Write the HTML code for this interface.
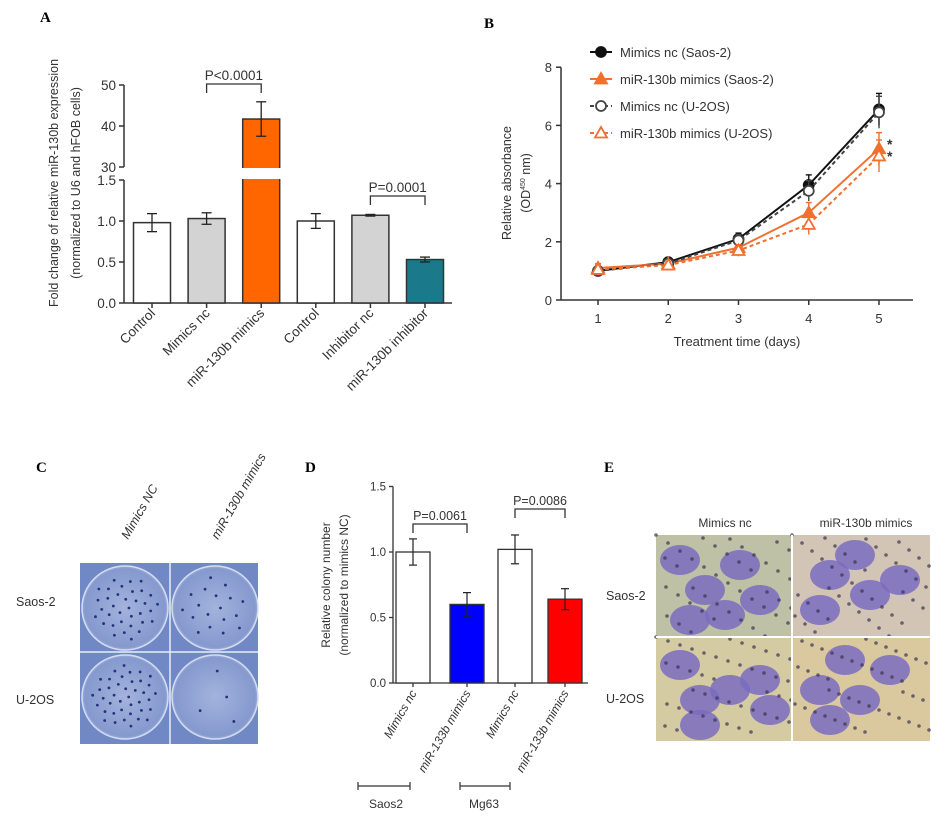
<!DOCTYPE html>
<html><head><meta charset="utf-8"><style>
body{margin:0;background:#fff;width:945px;height:830px;overflow:hidden}
svg{font-family:"Liberation Sans",Arial,sans-serif}
</style></head><body>
<svg id="fig" width="945" height="830" viewBox="0 0 945 830">
<defs>
<radialGradient id="plate" cx="50%" cy="50%" r="55%"><stop offset="0" stop-color="#a3b3dc"/><stop offset="0.85" stop-color="#8599cf"/><stop offset="1" stop-color="#c9d4ec"/></radialGradient>
</defs>
<g id="pA"></g>
<g id="pB"></g>
<g id="pC"></g>
<g id="pD"></g>
<g id="pE"></g>
</svg>
<script>
// Panel A data
const aCats = ["Control","Mimics nc","miR-130b mimics","Control","Inhibitor nc","miR-130b inhibitor"];
const aVals = [0.98,1.03,41.7,1.0,1.07,0.53];
const aErr = [0.11,0.07,4.2,0.09,0.01,0.03];
const aFill = ["#fff","#d3d3d3","#ff6600","#fff","#d3d3d3","#1a7a8c"];
const aTicksLow = [0,0.5,1.0,1.5];
const aTicksHigh = [30,40,50];
// Panel B data
const bDays = [1,2,3,4,5];
const bNcSaos = [1.0,1.3,2.1,3.95,6.55];
const bMiSaos = [1.1,1.25,1.8,3.0,5.2];
const bNcU2 = [1.0,1.25,2.05,3.75,6.45];
const bMiU2 = [1.05,1.2,1.7,2.6,4.95];
const bErr = [0.15,0.12,0.2,0.35,0.55];
const bTicks = [0,2,4,6,8];
// Panel D data
const dCats = ["Mimics nc","miR-133b mimics","Mimics nc","miR-133b mimics"];
const dVals = [1.0,0.6,1.02,0.64];
const dErr = [0.1,0.09,0.11,0.08];
const dFill = ["#fff","#0000ff","#fff","#ff0000"];
const dTicks = [0,0.5,1.0,1.5];

const NS="http://www.w3.org/2000/svg";
function mk(p,tag,at,txt){const e=document.createElementNS(NS,tag);for(const k in at)e.setAttribute(k,at[k]);if(txt!==undefined)e.textContent=txt;p.appendChild(e);return e;}

// ---------- Panel A ----------
const A=document.getElementById('pA');
const ayLow=v=>303-v*82;
const ayHigh=v=>167-(v-30)*4.1;
const ay=v=>v>1.5?ayHigh(v):ayLow(v);
const axc=i=>152+i*54.6;
let t=mk(A,'text',{x:40,y:22,'font-family':'Liberation Serif','font-weight':'bold','font-size':15},'A');

let yt=mk(A,'text',{transform:'translate(58,183) rotate(-90)','text-anchor':'middle','font-size':12.5,fill:'#333'},'Fold change of relative miR-130b expression');

let yt2=mk(A,'text',{transform:'translate(80,183) rotate(-90)','text-anchor':'middle','font-size':12.5,fill:'#333'},'(normalized to U6 and hFOB cells)');

mk(A,'line',{x1:124,y1:85,x2:124,y2:167,stroke:'#333','stroke-width':1.5});
mk(A,'line',{x1:124,y1:180,x2:124,y2:303,stroke:'#333','stroke-width':1.5});
mk(A,'line',{x1:124,y1:303,x2:452,y2:303,stroke:'#333','stroke-width':1.5});
aTicksHigh.concat(aTicksLow).forEach(v=>{
  const y=ay(v);
  mk(A,'line',{x1:119,y1:y,x2:124,y2:y,stroke:'#333','stroke-width':1.5});
  const l=mk(A,'text',{x:116,y:y+5,'text-anchor':'end','font-size':13.5,fill:'#333'},v>1.5?v:v.toFixed(1));
  
});
aCats.forEach((c,i)=>{
  const cx=axc(i),w=37,top=ay(aVals[i]);
  const r=mk(A,'rect',{x:cx-w/2,y:top,width:w,height:303-top,fill:aFill[i],stroke:'#333','stroke-width':1.5});
  
  const e1=ay(aVals[i]+aErr[i]),e2=ay(aVals[i]-aErr[i]);
  mk(A,'line',{x1:cx,y1:e1,x2:cx,y2:e2,stroke:'#222','stroke-width':1.3});
  mk(A,'line',{x1:cx-5,y1:e1,x2:cx+5,y2:e1,stroke:'#222','stroke-width':1.3});
  mk(A,'line',{x1:cx-5,y1:e2,x2:cx+5,y2:e2,stroke:'#222','stroke-width':1.3});
  mk(A,'line',{x1:cx,y1:303,x2:cx,y2:308,stroke:'#333','stroke-width':1.5});
  const l=mk(A,'text',{transform:`translate(${cx+4},314) rotate(-45)`,'text-anchor':'end','font-size':13.5,fill:'#333'},c);
  
});
mk(A,'rect',{x:240,y:168,width:44,height:11,fill:'#fff'});
function bracket(P,x1,x2,y,txt,fs){
  mk(P,'path',{d:`M${x1} ${y+9}V${y}H${x2}V${y+9}`,fill:'none',stroke:'#333','stroke-width':1.3});
  const l=mk(P,'text',{x:(x1+x2)/2,y:y-4,'text-anchor':'middle','font-size':fs||13.5,fill:'#333'},txt);
  
}
bracket(A,axc(1),axc(2),84,'P<0.0001');
bracket(A,axc(4),axc(5),196,'P=0.0001');

// ---------- Panel B ----------
const B=document.getElementById('pB');
const bx=d=>598+(d-1)*70.25;
const by=v=>300-v*29.1;
t=mk(B,'text',{x:484,y:28,'font-family':'Liberation Serif','font-weight':'bold','font-size':15},'B');

mk(B,'line',{x1:561,y1:by(8),x2:561,y2:300,stroke:'#333','stroke-width':1.5});
mk(B,'line',{x1:561,y1:300,x2:913,y2:300,stroke:'#333','stroke-width':1.5});
bTicks.forEach(v=>{mk(B,'line',{x1:556,y1:by(v),x2:561,y2:by(v),stroke:'#333','stroke-width':1.5});
  const l=mk(B,'text',{x:552,y:by(v)+5,'text-anchor':'end','font-size':13,fill:'#333'},v);
  });
bDays.forEach(d=>{mk(B,'line',{x1:bx(d),y1:300,x2:bx(d),y2:305,stroke:'#333','stroke-width':1.5});
  const l=mk(B,'text',{x:bx(d),y:323,'text-anchor':'middle','font-size':13,fill:'#333'},d);
  });
t=mk(B,'text',{x:737,y:346,'text-anchor':'middle','font-size':13,fill:'#333'},'Treatment time (days)');

t=mk(B,'text',{transform:'translate(511,183) rotate(-90)','text-anchor':'middle','font-size':12.5,fill:'#333'},'Relative absorbance');

t=mk(B,'text',{transform:'translate(530,183) rotate(-90)','text-anchor':'middle','font-size':12.5,fill:'#333'});
t.innerHTML='(OD<tspan font-size="7" dy="-5">450</tspan><tspan dy="5"> nm)</tspan>';

const series=[
 {v:bNcSaos,c:'#111',dash:'',m:'dot',fill:'#111',name:'Mimics nc (Saos-2)'},
 {v:bMiSaos,c:'#f07030',dash:'',m:'tri',fill:'#f07030',name:'miR-130b mimics (Saos-2)'},
 {v:bNcU2,c:'#444',dash:'4,3',m:'dot',fill:'#fff',name:'Mimics nc (U-2OS)'},
 {v:bMiU2,c:'#f07030',dash:'4,3',m:'tri',fill:'#fff',name:'miR-130b mimics (U-2OS)'}];
function marker(P,s,x,y){
  if(s.m==='dot')return mk(P,'circle',{cx:x,cy:y,r:5,fill:s.fill,stroke:s.c,'stroke-width':1.8});
  return mk(P,'path',{d:`M${x} ${y-6}L${x+6} ${y+4.5}L${x-6} ${y+4.5}Z`,fill:s.fill,stroke:s.c,'stroke-width':1.8});
}
series.forEach((s,si)=>{
  const g=mk(B,'g',{});
  
  mk(g,'polyline',{points:s.v.map((v,i)=>bx(bDays[i])+','+by(v)).join(' '),fill:'none',stroke:s.c,'stroke-width':2,'stroke-dasharray':s.dash});
  s.v.forEach((v,i)=>{const x=bx(bDays[i]);
    mk(g,'line',{x1:x,y1:by(v+bErr[i]),x2:x,y2:by(v-bErr[i]),stroke:s.c,'stroke-width':1.4});
    mk(g,'line',{x1:x-3,y1:by(v+bErr[i]),x2:x+3,y2:by(v+bErr[i]),stroke:s.c,'stroke-width':1.4});
    const p=marker(g,s,x,by(v));});
  const ly=52+si*27;
  const le=mk(B,'g',{});
  mk(le,'line',{x1:590,y1:ly,x2:612,y2:ly,stroke:s.c,'stroke-width':2,'stroke-dasharray':s.dash});
  marker(le,s,601,ly);
  mk(le,'text',{x:620,y:ly+5,'font-size':13,fill:'#333'},s.name);
});
mk(B,'text',{x:887,y:149,'font-size':14,'font-weight':'bold',fill:'#333'},'*');
mk(B,'text',{x:887,y:161,'font-size':14,'font-weight':'bold',fill:'#333'},'*');

// ---------- Panel C ----------
const C=document.getElementById('pC');
t=mk(C,'text',{x:36,y:472,'font-family':'Liberation Serif','font-weight':'bold','font-size':15},'C');

[['Mimics NC',128],['miR-130b mimics',218]].forEach(([s,x])=>{
  const l=mk(C,'text',{transform:`translate(${x},540) rotate(-60)`,'font-size':12.5,'font-style':'italic',fill:'#333'},s);
  });
[['Saos-2',606],['U-2OS',704]].forEach(([s,y])=>{
  const l=mk(C,'text',{x:16,y:y,'font-size':12.5,fill:'#333'},s);
  });
const cimg=mk(C,'g',{});
mk(cimg,'rect',{x:80,y:563,width:178,height:181,fill:'#7088c4'});
[[80,563],[170,563],[80,652],[170,652]].forEach(([x,y],k)=>{
  mk(cimg,'ellipse',{cx:x+45,cy:y+45,rx:43,ry:42,fill:'url(#plate)',stroke:'#d3dcf0','stroke-width':1.5});
  const n=[35,18,40,4][k];
  for(let j=0;j<n;j++){const a=j*2.399,r=33*Math.sqrt((j+0.5)/n);
    mk(cimg,'circle',{cx:x+45+r*Math.cos(a),cy:y+45+r*Math.sin(a),r:1.4,fill:'#2a2f7a'});}
});
mk(cimg,'line',{x1:170,y1:563,x2:170,y2:744,stroke:'#e8eef8','stroke-width':1.5});
mk(cimg,'line',{x1:80,y1:652,x2:258,y2:652,stroke:'#e8eef8','stroke-width':1.5});

// ---------- Panel D ----------
const D=document.getElementById('pD');
const dy=v=>683-v*131;
const dxc=i=>[413,467,515,565][i];
t=mk(D,'text',{x:305,y:472,'font-family':'Liberation Serif','font-weight':'bold','font-size':15},'D');

t=mk(D,'text',{transform:'translate(330,585) rotate(-90)','text-anchor':'middle','font-size':12,fill:'#333'},'Relative colony number');

t=mk(D,'text',{transform:'translate(348,585) rotate(-90)','text-anchor':'middle','font-size':12,fill:'#333'},'(normalized to mimics NC)');

mk(D,'line',{x1:393,y1:dy(1.5),x2:393,y2:683,stroke:'#333','stroke-width':1.3});
mk(D,'line',{x1:393,y1:683,x2:588,y2:683,stroke:'#333','stroke-width':1.3});
dTicks.forEach(v=>{mk(D,'line',{x1:389,y1:dy(v),x2:393,y2:dy(v),stroke:'#333','stroke-width':1.3});
  const l=mk(D,'text',{x:386,y:dy(v)+4,'text-anchor':'end','font-size':11.5,fill:'#333'},v.toFixed(1));
  });
dCats.forEach((c,i)=>{
  const cx=dxc(i),w=34,top=dy(dVals[i]);
  const r=mk(D,'rect',{x:cx-w/2,y:top,width:w,height:683-top,fill:dFill[i],stroke:'#333','stroke-width':1.3});
  
  const e1=dy(dVals[i]+dErr[i]),e2=dy(dVals[i]-dErr[i]);
  mk(D,'line',{x1:cx,y1:e1,x2:cx,y2:e2,stroke:'#222','stroke-width':1.2});
  mk(D,'line',{x1:cx-4,y1:e1,x2:cx+4,y2:e1,stroke:'#222','stroke-width':1.2});
  mk(D,'line',{x1:cx-4,y1:e2,x2:cx+4,y2:e2,stroke:'#222','stroke-width':1.2});
  mk(D,'line',{x1:cx,y1:683,x2:cx,y2:687,stroke:'#333','stroke-width':1.3});
  const l=mk(D,'text',{transform:`translate(${cx+4},693) rotate(-60)`,'text-anchor':'end','font-size':12,'font-style':'italic',fill:'#333'},c);
  
});
bracket(D,dxc(0),dxc(1),524,'P=0.0061',12.5);
bracket(D,dxc(2),dxc(3),509,'P=0.0086',12.5);
[[358,410,'Saos2',386],[460,510,'Mg63',484]].forEach(([x1,x2,s,cx])=>{
  mk(D,'path',{d:`M${x1} 782V790M${x1} 786H${x2}M${x2} 782V790`,stroke:'#333','stroke-width':1.2,fill:'none'});
  const l=mk(D,'text',{x:cx,y:808,'text-anchor':'middle','font-size':12,fill:'#333'},s);
  });

// ---------- Panel E ----------
const E=document.getElementById('pE');
t=mk(E,'text',{x:604,y:472,'font-family':'Liberation Serif','font-weight':'bold','font-size':15},'E');

[['Mimics nc',725],['miR-130b mimics',866]].forEach(([s,x])=>{
  const l=mk(E,'text',{x:x,y:527,'text-anchor':'middle','font-size':12,fill:'#333'},s);
  });
[['Saos-2',600],['U-2OS',703]].forEach(([s,y])=>{
  const l=mk(E,'text',{x:606,y:y,'font-size':12.5,fill:'#333'},s);
  });
const eimg=mk(E,'g',{});
[[656,535,136,102,'#bfc1a6',[[680,560],[705,590],[740,565],[760,600],[690,620],[725,615]]],
 [792,535,138,102,'#d3c5b6',[[830,575],[870,595],[855,555],[900,580],[820,610]]],
 [656,637,136,104,'#d4cba3',[[680,665],[700,700],[730,690],[760,680],[700,725],[770,710]]],
 [792,637,138,104,'#dac99f',[[820,690],[860,700],[845,660],[890,670],[830,720]]]].forEach(([x,y,w,h,c,bl])=>{
  mk(eimg,'rect',{x:x,y:y,width:w,height:h,fill:c});
  bl.forEach(([bx2,by2])=>mk(eimg,'ellipse',{cx:bx2,cy:by2,rx:20,ry:15,fill:'#7a6cbf',opacity:0.85}));
  for(let j=0;j<45;j++){mk(eimg,'circle',{cx:x+((j*37)%w),cy:y+((j*53)%h),r:1.8,fill:'#3a3350',opacity:0.7});}
});
mk(eimg,'line',{x1:792,y1:535,x2:792,y2:741,stroke:'#fff','stroke-width':2});
mk(eimg,'line',{x1:656,y1:637,x2:930,y2:637,stroke:'#fff','stroke-width':2});
</script>
</body></html>
